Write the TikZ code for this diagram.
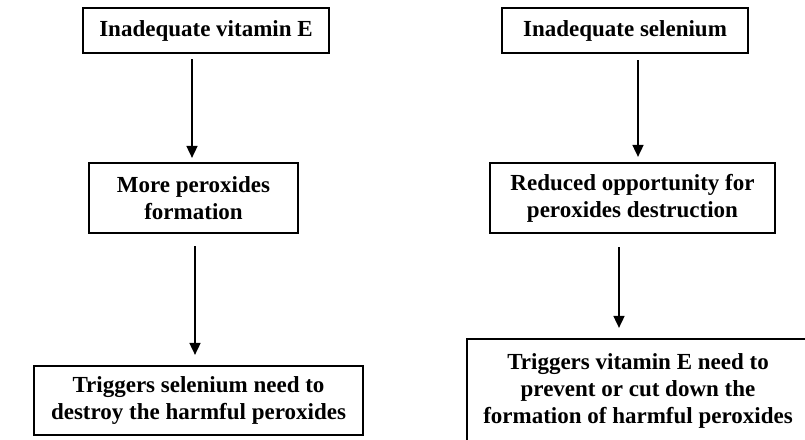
\documentclass[tikz,border=0pt]{standalone}
\usepackage{fontspec}
\setmainfont{Liberation Serif}
\usetikzlibrary{arrows.meta}
\begin{document}
\begin{tikzpicture}[x=1pt,y=-1pt,
  box/.style={draw=black,line width=2.2pt,inner sep=0pt,align=center,
    font=\fontsize{23}{27}\selectfont\bfseries},
  arr/.style={line width=1.7pt,-{Triangle[length=12pt,width=11pt]}}]
\useasboundingbox (0,0) rectangle (805,439);
\node[box,minimum width=246pt,minimum height=45pt] (b1) at (206,30.5) {Inadequate vitamin E};
\node[box,minimum width=246pt,minimum height=45pt] (b2) at (625,30.5) {Inadequate selenium};
\node[box,minimum width=209pt,minimum height=70pt] (b3) at (193.5,198) {More peroxides\\formation};
\node[box,minimum width=285pt,minimum height=70pt] (b4) at (632.5,198) {Reduced opportunity for\\peroxides destruction};
\node[box,minimum width=329pt,minimum height=69pt] (b5) at (198.5,400.5) {Triggers selenium need to\\destroy the harmful peroxides};
\node[box,minimum width=342pt,minimum height=104pt] (b6) at (638,391) {Triggers vitamin E need to\\prevent or cut down the\\formation of harmful peroxides};
\draw[arr] ([xshift=-14pt,yshift=-5pt]b1.south) -- ([xshift=-1.5pt,yshift=4pt]b3.north);
\draw[arr] ([xshift=1.5pt,yshift=-12pt]b3.south) -- ([xshift=-3.5pt,yshift=10pt]b5.north);
\draw[arr] ([xshift=13pt,yshift=-6pt]b2.south) -- ([xshift=5.5pt,yshift=5pt]b4.north);
\draw[arr] ([xshift=-13.5pt,yshift=-13pt]b4.south) -- ([xshift=-19pt,yshift=10pt]b6.north);
\end{tikzpicture}
\end{document}
